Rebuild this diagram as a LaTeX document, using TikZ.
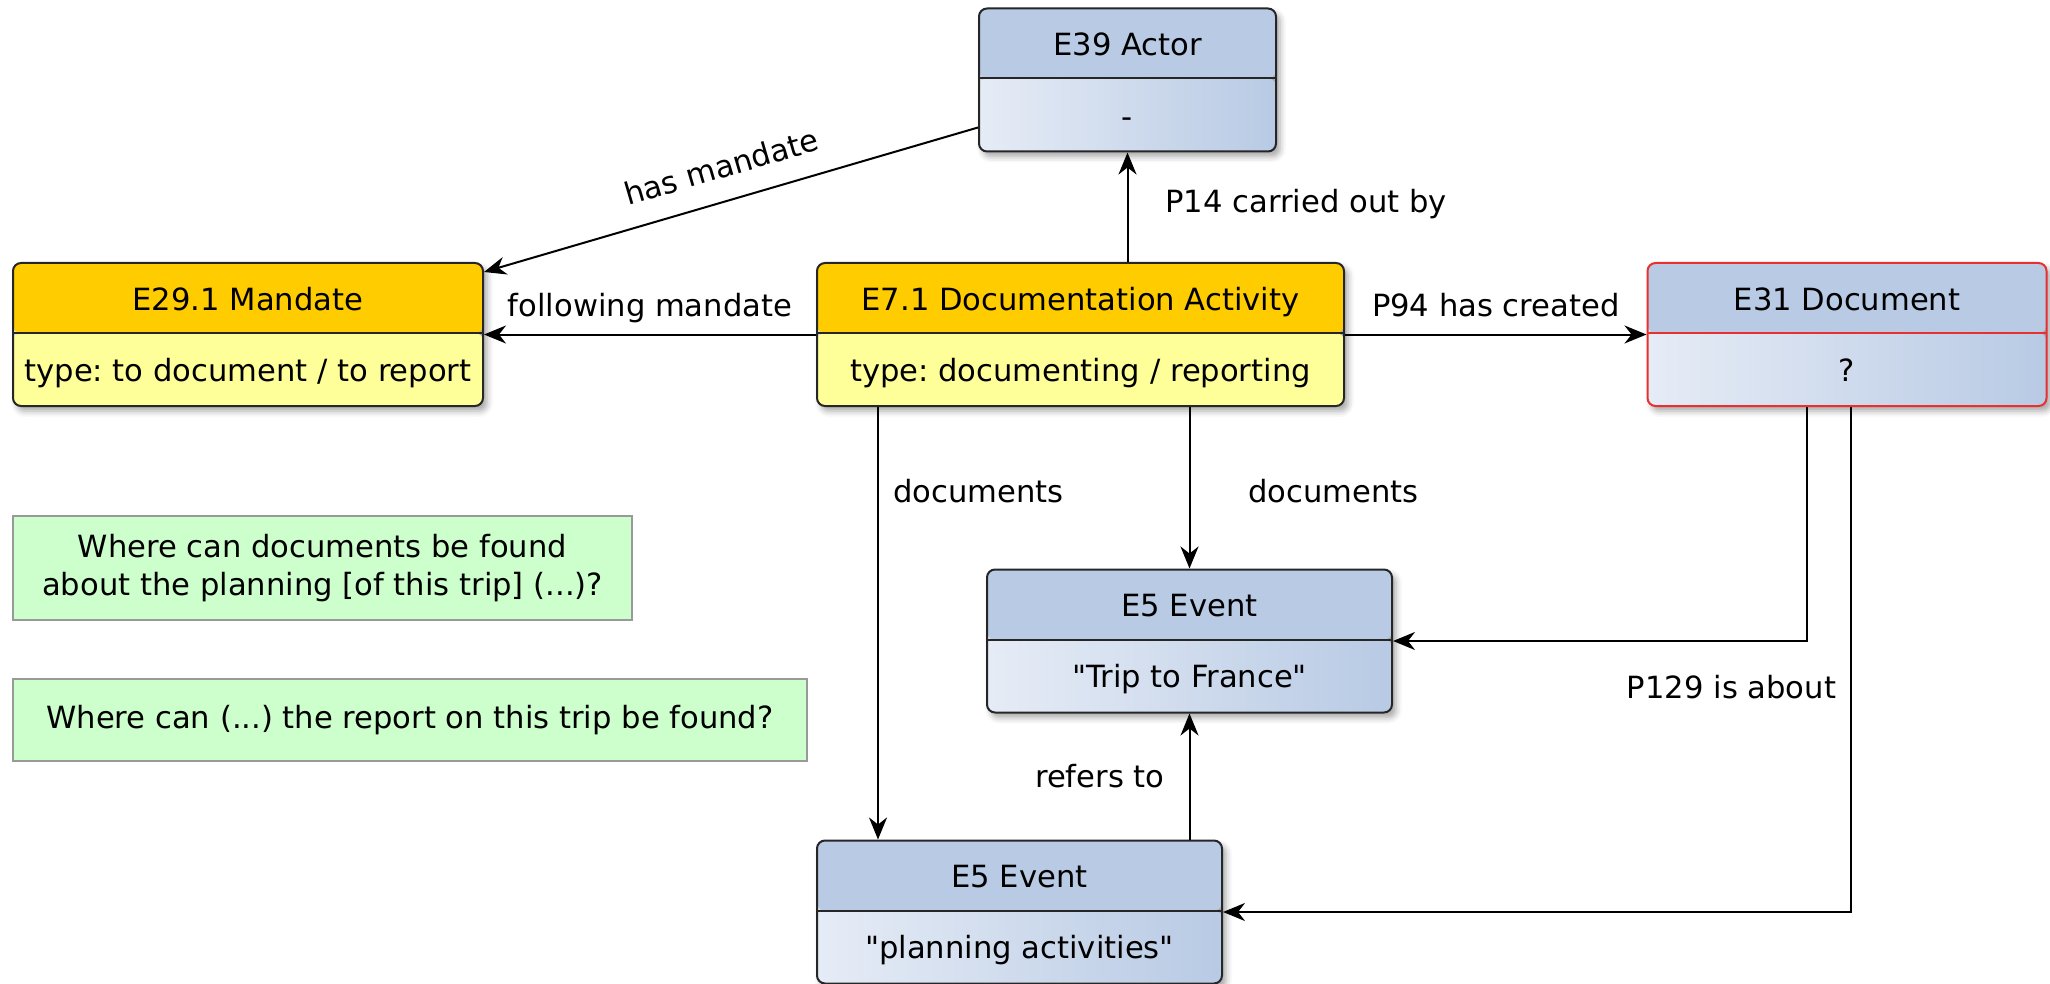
\documentclass[tikz,border=0pt]{standalone}
\usepackage{fontspec}
\setmainfont{DejaVu Sans}[Ligatures=TeXOff]
\usetikzlibrary{arrows.meta,calc,shadows.blur}
\frenchspacing

\definecolor{hdrorange}{HTML}{FFCC00}
\definecolor{bodyyellow}{HTML}{FFFF99}
\definecolor{hdrblue}{HTML}{B8CAE4}
\definecolor{bodyblue}{HTML}{E6ECF6}
\definecolor{qgreen}{HTML}{CCFFCC}
\definecolor{qborder}{HTML}{999999}
\definecolor{docred}{HTML}{E83030}

\begin{document}
\begin{tikzpicture}[
  x=0.5pt, y=-0.5pt,
  font=\fontsize{15.3}{19}\selectfont,
  cls/.style n args={4}{draw=#4, line width=1pt, rounded corners=4pt,
    minimum height=71.5pt, align=center, inner sep=0pt, text depth=0pt,
    font=\fontsize{15.3}{35.75}\selectfont,
    blur shadow={shadow xshift=2pt, shadow yshift=-2.5pt, shadow blur radius=3pt, shadow opacity=35},
    path picture={
      \fill[#1] (path picture bounding box.north west) rectangle ([yshift=-35pt]path picture bounding box.north east);
      \shade[left color=#2, right color=#3] ([yshift=-35pt]path picture bounding box.north west) rectangle (path picture bounding box.south east);
      \draw[#4, line width=1pt] ([yshift=-35pt]path picture bounding box.north west) -- ([yshift=-35pt]path picture bounding box.north east);
    }},
  event/.style={cls={hdrblue}{bodyblue}{hdrblue}{black!85}},
  activity/.style={cls={hdrorange}{bodyyellow}{bodyyellow}{black!85}},
  question/.style={draw=qborder, fill=qgreen, line width=1pt, align=center},
  rel/.style={-{Stealth[length=11pt, width=9pt, inset=3.5pt]}, line width=1pt},
  lbl/.style={inner sep=3pt, text height=0.75em, text depth=0.25em},
]
\useasboundingbox (0,0) rectangle (2050,984);

% entities
\node[event, minimum width=148.5pt] (actor) at (1127.5,80) {E39 Actor\\-};
\node[activity, minimum width=235pt] (mandate) at (248,334.5) {E29.1 Mandate\\type: to document / to report};
\node[activity, minimum width=263.5pt] (docact) at (1080.5,334.5) {E7.1 Documentation Activity\\type: documenting / reporting};
\node[cls={hdrblue}{bodyblue}{hdrblue}{docred}, minimum width=199.5pt] (document) at (1847,334.5) {E31 Document\\?};
\node[event, minimum width=202.5pt] (trip) at (1189.5,641) {E5 Event\\"Trip to France"};
\node[event, minimum width=202.5pt] (planning) at (1019.5,912) {E5 Event\\"planning activities"};

% questions
\node[question, minimum width=309.5pt, minimum height=52pt] (q1) at (322.5,568) {Where can documents be found\\about the planning [of this trip] (...)?};
\node[question, minimum width=397pt, minimum height=41pt] (q2) at (410,720) {Where can (...) the report on this trip be found?};

% properties
\draw[rel] ($(actor.south west)+(0,-25)$) -- node[lbl, sloped, above=5.5pt]{has mandate} ($(mandate.north east)+(0,10)$);
\draw[rel] (docact.north -| actor.south) -- node[lbl, right=15.5pt]{P14 carried out by} (actor.south);
\draw[rel] (docact.west) -- node[lbl, above=3pt]{following mandate} (mandate.east);
\draw[rel] (docact.east) -- node[lbl, above=3pt]{P94 has created} (document.west);
\draw[rel] ($(docact.south west)+(62,0)$) -- node[lbl, right=4pt, pos=0.21]{documents} ($(planning.north west)+(62,0)$);
\draw[rel] (docact.south -| trip.north) -- node[lbl, right=26pt, pos=0.56]{documents} (trip.north);
\draw[rel] (planning.north -| trip.south) -- node[lbl, left=9pt, pos=0.45]{refers to} (trip.south);
\draw[rel] ($(document.south)+(-40,0)$) |- (trip.east);
\draw[rel] ($(document.south)+(4,0)$) |- node[lbl, left=4pt, pos=0.284]{P129 is about} (planning.east);

\end{tikzpicture}
\end{document}
